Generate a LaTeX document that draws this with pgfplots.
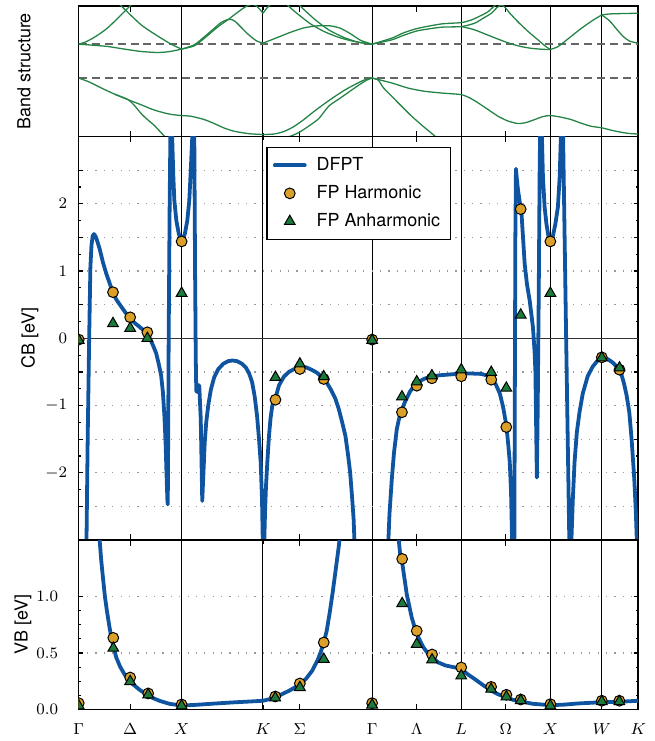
\documentclass[border=0pt]{standalone}
\usepackage{fontspec}
\setmainfont{TeX Gyre Heros}
\usepackage{pgfplots}
\pgfplotsset{compat=1.18}
\usepackage{pgfplotstable}

\definecolor{dfpt}{RGB}{14,84,160}
\definecolor{harm}{RGB}{218,160,42}
\definecolor{anh}{RGB}{28,122,60}
\definecolor{band}{RGB}{36,132,70}

% DFPT, conduction band (CB) renormalisation along the path
\pgfplotstableread{
x y
0.0 -4.0
0.0726 -3.4
0.0871 -1.5
0.1016 0.0
0.1133 1.05
0.1239 1.38
0.1355 1.52
0.1481 1.55
0.1626 1.52
0.1791 1.45
0.2033 1.33
0.2352 1.13
0.2682 0.96
0.3001 0.82
0.3320 0.68
0.3679 0.57
0.4134 0.47
0.4550 0.38
0.4937 0.31
0.5421 0.23
0.5905 0.17
0.6292 0.12
0.6651 0.07
0.6970 -0.02
0.7260 -0.12
0.7522 -0.22
0.7744 -0.36
0.8006 -0.55
0.8180 -0.80
0.8325 -1.15
0.8441 -1.55
0.8519 -1.95
0.8616 -2.40
0.8654 -2.47
0.8693 -1.50
0.8742 0.00
0.8838 2.00
0.8906 3.00
0.8984 3.50
0.9080 3.00
0.9197 2.40
0.9293 2.05
0.9487 1.75
0.9729 1.55
1.0000 1.44
1.0310 1.55
1.0552 1.75
1.0745 2.05
1.0890 2.50
1.1036 3.00
1.1152 3.50
1.1230 3.04
1.1307 1.00
1.1375 -0.30
1.1423 -0.78
1.1520 -0.80
1.1549 -0.70
1.1713 -0.70
1.1859 -1.20
1.2004 -2.42
1.2120 -2.00
1.2246 -1.55
1.2391 -1.25
1.2585 -1.00
1.2846 -0.76
1.3166 -0.58
1.3553 -0.46
1.4037 -0.38
1.4521 -0.34
1.4937 -0.33
1.5392 -0.34
1.5876 -0.38
1.6263 -0.44
1.6554 -0.52
1.6844 -0.65
1.7086 -0.85
1.7328 -1.15
1.7522 -1.50
1.7686 -1.85
1.7812 -2.40
1.7906 -3.20
1.7957 -4.00
1.7986 -3.30
1.8103 -2.60
1.8199 -2.20
1.8325 -1.85
1.8490 -1.45
1.8635 -1.20
1.8809 -1.00
1.9138 -0.88
1.9458 -0.70
1.9942 -0.57
2.0426 -0.50
2.0910 -0.46
2.1491 -0.44
2.2072 -0.43
2.2652 -0.47
2.3137 -0.51
2.3650 -0.58
2.4105 -0.66
2.4492 -0.76
2.4947 -0.90
2.5266 -1.05
2.5605 -1.25
2.5915 -1.45
2.6186 -1.75
2.6380 -2.00
2.6554 -2.34
2.6718 -2.70
2.6815 -3.10
2.6912 -3.60
2.8513 -5.00
3.0010 -3.60
3.0039 -3.20
3.0203 -2.60
3.0426 -2.09
3.0639 -1.70
3.0910 -1.35
3.1123 -1.20
3.1394 -1.06
3.1752 -0.93
3.2207 -0.79
3.2623 -0.70
3.3011 -0.65
3.3591 -0.60
3.4298 -0.57
3.5044 -0.55
3.5915 -0.54
3.6689 -0.53
3.7532 -0.525
3.8335 -0.525
3.9138 -0.53
3.9594 -0.55
4.0107 -0.60
4.0513 -0.68
4.0920 -0.82
4.1239 -1.02
4.1559 -1.30
4.1752 -1.60
4.1888 -1.84
4.2014 -2.30
4.2110 -3.00
4.2207 -3.60
4.2285 -3.60
4.2333 -3.00
4.2430 1.50
4.2488 2.52
4.2556 2.40
4.2691 2.20
4.2885 2.00
4.3011 1.90
4.3175 1.50
4.3340 1.10
4.3563 0.80
4.3824 0.56
4.4143 0.16
4.4300 -0.20
4.4380 -0.50
4.4450 -1.30
4.4520 -2.07
4.4600 -1.10
4.4700 0.60
4.4792 2.50
4.4840 3.10
4.4918 3.60
4.4995 3.10
4.5111 2.40
4.5276 1.95
4.5450 1.70
4.5644 1.52
4.5833 1.44
4.6079 1.52
4.6321 1.70
4.6563 1.95
4.6738 2.40
4.6854 3.00
4.6951 3.60
4.7067 3.04
4.7367 0.00
4.7677 -3.04
4.7725 -3.60
4.7822 -3.60
4.7870 -3.04
4.8015 -2.40
4.8180 -1.85
4.8403 -1.40
4.8664 -1.10
4.8984 -0.82
4.9468 -0.56
4.9952 -0.42
5.0436 -0.33
5.0833 -0.29
5.1404 -0.31
5.1888 -0.36
5.2275 -0.42
5.2691 -0.51
5.3001 -0.68
5.3243 -0.85
5.3504 -1.10
5.3727 -1.50
5.3988 -2.09
5.4143 -2.60
5.4240 -3.04
5.4369 -3.60
}\cbdfpt

% DFPT, valence band (VB)
\pgfplotstableread{
x y
0.1000 4.00
0.1791 1.90
0.2033 1.50
0.2178 1.33
0.2352 1.17
0.2546 1.00
0.2740 0.873
0.2953 0.75
0.3166 0.637
0.3388 0.55
0.3650 0.46
0.4018 0.38
0.4453 0.31
0.4840 0.26
0.5256 0.224
0.5905 0.175
0.6554 0.135
0.7164 0.103
0.7841 0.077
0.8809 0.050
1.0000 0.035
1.1230 0.040
1.3330 0.053
1.4908 0.062
1.6554 0.070
1.7328 0.074
1.7906 0.077
1.8490 0.090
1.9138 0.112
1.9748 0.135
2.0426 0.165
2.1007 0.195
2.1491 0.224
2.2072 0.270
2.2682 0.342
2.3233 0.440
2.3524 0.510
2.3814 0.590
2.4105 0.700
2.4395 0.860
2.4685 1.040
2.4976 1.240
2.5266 1.440
2.5411 1.550
2.5750 1.850
2.6234 2.700
2.8513 6.000
3.0600 2.700
3.0910 1.800
3.1075 1.520
3.1239 1.374
3.1433 1.300
3.1878 1.020
3.2362 0.814
3.2672 0.720
3.3011 0.637
3.3495 0.550
3.3979 0.490
3.4463 0.450
3.4947 0.416
3.5625 0.390
3.6234 0.378
3.6689 0.370
3.7173 0.357
3.7822 0.310
3.8500 0.268
3.9303 0.215
4.0107 0.165
4.0755 0.135
4.1559 0.106
4.2207 0.085
4.3011 0.070
4.4143 0.050
4.5833 0.038
4.7047 0.042
4.8499 0.053
4.9952 0.060
5.0833 0.065
5.2536 0.068
5.4369 0.077
}\vbdfpt

\pgfplotstableread{
x harm anh
0.0000 -0.02 -0.03
0.3330 0.685 0.22
0.5000 0.312 0.15
0.6670 0.089 0.00
1.0000 1.440 0.67
1.9120 -0.914 -0.58
2.1490 -0.457 -0.38
2.3810 -0.605 -0.57
2.8513 -0.020 -0.03
3.1410 -1.100 -0.87
3.2850 -0.705 -0.645
3.4320 -0.595 -0.556
3.7173 -0.565 -0.467
4.0090 -0.616 -0.506
4.1550 -1.320 -0.74
4.2950 1.920 0.347
4.5833 1.440 0.67
5.0833 -0.283 -0.29
5.2550 -0.467 -0.44
}\cbfp

\pgfplotstableread{
x harm anh
0.0000 0.056 0.033
0.3360 0.634 0.543
0.5000 0.283 0.248
0.6750 0.142 0.130
1.0000 0.044 0.033
1.9100 0.115 0.103
2.1490 0.230 0.195
2.3814 0.593 0.445
2.8513 0.056 0.040
3.1433 1.333 0.938
3.2846 0.696 0.578
3.4337 0.487 0.440
3.7173 0.372 0.298
4.0077 0.200 0.180
4.1559 0.130 0.112
4.2953 0.088 0.080
4.5833 0.047 0.033
5.0833 0.077 0.070
5.2536 0.077 0.070
}\vbfp

\pgfplotsset{
  panel/.style={
    scale only axis, width=280.75pt,
    xmin=0, xmax=5.4369,
    xtick={0,1,1.7906,2.8513,3.7173,4.5833,5.0833,5.4369},
    xticklabels={},
    extra x ticks={0.5,2.149,3.284,4.150},
    extra x tick labels={},
    extra x tick style={grid=none, major tick length=2.8pt},
    xmajorgrids,
    x grid style={black, line width=0.5pt},
    y grid style={black!40, line width=0.6pt, dash pattern=on 0.6pt off 3.6pt},
    axis line style={black, line width=0.75pt},
    tick style={black, line width=0.6pt},
    major tick length=2pt, minor tick length=1.2pt,
    tick align=inside,
    clip marker paths=true,
    yticklabel style={font=\fontsize{8}{9.6}\selectfont},
    xticklabel style={font=\fontsize{8.5}{10}\selectfont, yshift=-3.5pt},
    ylabel style={font=\fontsize{9}{11}\selectfont, anchor=center},
    legend image code/.code={\draw[mark repeat=2,mark phase=2,#1] plot coordinates {(0pt,0pt) (7.5pt,0pt) (15pt,0pt)};},
  },
  bandline/.style={color=band, line width=0.65pt, smooth, tension=0.4, forget plot},
  dfptline/.style={color=dfpt, line width=1.9pt, line join=round, line cap=round},
  harmmark/.style={only marks, mark=*, mark size=2.7pt, mark options={fill=harm, draw=black, line width=0.5pt}},
  anhmark/.style={only marks, mark=triangle*, mark size=3.1pt, mark options={fill=anh, draw=black, line width=0.5pt}},
}

\begin{document}
\begin{tikzpicture}
\path (0pt,0pt) rectangle (328.5pt,-370.5pt);

% ---------------- band structure ----------------
\begin{axis}[panel, at={(39.5pt,-68.5pt)}, anchor=south west, height=65.5pt,
  ymin=0, ymax=131, ytick=\empty,
  ylabel={Band structure}, ylabel style={at={(axis description cs:-0.098,0.5)}}]
\addplot[black!60, dash pattern=on 4pt off 2.5pt, line width=0.65pt, forget plot] coordinates {(0,92.7) (5.4369,92.7)};
\addplot[black!60, dash pattern=on 4pt off 2.5pt, line width=0.65pt, forget plot] coordinates {(0,58.7) (5.4369,58.7)};
% conduction bands
\addplot[bandline] coordinates {(0,92.7) (0.1549,91.5) (0.2836,90.3) (0.4453,87.7) (0.6070,85.3) (0.7677,84.3) (0.8809,85.2) (1.0,87.7)};
\addplot[bandline] coordinates {(0,92.7) (0.0581,94.5) (0.1258,98) (0.2033,103) (0.2807,109) (0.3582,116.5) (0.4356,124.5) (0.5034,131.5) (0.5518,137)};
\addplot[bandline] coordinates {(0.3485,137) (0.4134,131) (0.5034,122) (0.6070,112) (0.6970,105.5) (0.8006,98.7) (0.9003,92.5) (1.0,87.7)};
\addplot[bandline] coordinates {(1,87.7) (1.1230,92) (1.2198,100) (1.3166,108.5) (1.3843,114.5) (1.4424,117.2) (1.4811,117.5) (1.5198,115.5) (1.5750,110) (1.6263,104.5) (1.6873,99) (1.7328,95.7) (1.7906,93.7)};
\addplot[bandline] coordinates {(1,87.7) (1.1230,91) (1.2198,98.5) (1.3166,107) (1.3843,112.5) (1.4453,116.8) (1.5102,122) (1.5750,127) (1.6263,130.5) (1.6747,132.5) (1.7134,132) (1.7522,128.5) (1.7906,123.7)};
\addplot[bandline] coordinates {(1.7906,93.7) (1.8974,98) (2.0426,104) (2.1878,109) (2.3137,111) (2.4492,111) (2.5460,108.5) (2.6428,103) (2.7396,96.5) (2.8513,92.7)};
\addplot[bandline] coordinates {(1.7906,123.7) (1.8296,129) (1.8780,134) (1.9361,137) (1.9942,135.5) (2.0591,129) (2.1394,122) (2.2527,113) (2.3814,105.5) (2.5266,99.5) (2.6718,95.5) (2.8513,92.7)};
\addplot[bandline] coordinates {(2.1007,137) (2.1588,130.3) (2.2943,117.5) (2.4298,107) (2.5750,99.5) (2.7202,94.5) (2.8513,92.7)};
\addplot[bandline] coordinates {(2.8513,92.7) (3.0426,98.7) (3.1559,104) (3.3011,108.7) (3.5266,113) (3.7173,114.3) (3.8170,117) (3.9012,121) (3.9787,125.3) (4.0465,132) (4.0949,137)};
\addplot[bandline] coordinates {(2.8513,92.7) (3.0426,97) (3.1559,101.5) (3.3011,106.3) (3.5266,109.7) (3.7173,110.3) (3.8471,113.7) (3.9274,118.5) (4.0107,123.7) (4.0658,129.5) (4.1075,132) (4.1433,129.5) (4.1917,123.5) (4.2691,115) (4.3659,105.5) (4.4627,97) (4.5305,91) (4.5833,87.3)};
\addplot[bandline] coordinates {(3.7173,110.3) (3.8335,107.5) (3.9468,103) (4.0562,98.5) (4.1723,94) (4.2885,90.5) (4.3979,88.5) (4.5111,87.5) (4.5833,87.3)};
\addplot[bandline] coordinates {(4.5833,87.3) (4.6544,90) (4.7125,94.5) (4.7832,100.3) (4.8771,108) (4.9768,115.3) (5.0416,119.5) (5.0833,122)};
\addplot[bandline] coordinates {(5.0833,122) (5.1597,123) (5.2856,123.4) (5.4369,123.7)};
\addplot[bandline] coordinates {(5.0833,122) (5.1597,116) (5.2372,106.5) (5.2953,100) (5.3534,95.7) (5.4369,93.7)};
% valence bands
\addplot[bandline] coordinates {(0,58.7) (0.1065,54.5) (0.2198,48.7) (0.3485,42.5) (0.4773,37) (0.5905,32.5) (0.7357,26.5) (0.8809,22.5) (1.0,21)};
\addplot[bandline] coordinates {(0.3485,42.5) (0.4773,37.2) (0.5421,31) (0.6070,23) (0.6680,17) (0.7357,11) (0.8325,0.3) (0.8616,-3)};
\addplot[bandline] coordinates {(1,21) (1.0939,20.3) (1.2198,17) (1.3166,13) (1.4134,8.5) (1.5102,5.3) (1.6554,2.8) (1.7906,2)};
\addplot[bandline] coordinates {(1.7906,2) (1.8974,2.5) (1.9942,5) (2.0910,10) (2.1878,17) (2.2846,25) (2.4298,36) (2.5750,46) (2.6718,51.5) (2.7686,56.5) (2.8513,58.7)};
\addplot[bandline] coordinates {(1.9748,-2) (2.0620,0.5) (2.1394,4) (2.2362,10.5) (2.3330,18) (2.4298,30.5) (2.5266,37.5) (2.6234,44.5) (2.7202,51.5) (2.7977,56.5) (2.8513,58.7)};
\addplot[bandline] coordinates {(2.8513,58.7) (3.0426,53.7) (3.2042,48.5) (3.3659,45.3) (3.5431,43.5) (3.7173,42) (3.8044,38.5) (3.8819,33.7) (3.9787,27) (4.0755,20.3) (4.1723,15.5) (4.2691,13) (4.3466,14) (4.4308,17) (4.5111,20) (4.5833,21) (4.6815,19.5) (4.7851,17) (4.8790,13.5) (4.9787,10.3) (5.0833,8.7) (5.1888,6) (5.2691,4.3) (5.3533,3) (5.4369,2.5)};
\addplot[bandline] coordinates {(2.8513,58.7) (2.9116,56.5) (2.9603,49) (3.0426,40.3) (3.1365,30.5) (3.2362,20.3) (3.3495,10) (3.4627,0.3) (3.4947,-3)};
\end{axis}

% ---------------- CB ----------------
\begin{axis}[panel, at={(39.5pt,-271pt)}, anchor=south west, height=202.5pt,
  ymin=-3, ymax=3,
  ytick={-2.5,-2,-1.5,-1,-0.5,0,0.5,1,1.5,2,2.5},
  yticklabels={,$-2$,,$-1$,,$0$,,$1$,,$2$,},
  minor y tick num=1, ymajorgrids,
  yticklabel style={xshift=-2.3pt},
  ylabel={CB [eV]}, ylabel style={at={(axis description cs:-0.0873,0.5)}},
  legend style={at={(axis description cs:0.3354,0.9746)}, anchor=north west,
    draw=black, line width=0.6pt, fill=white, font=\fontsize{9}{11}\selectfont,
    inner xsep=3pt, inner ysep=3pt, row sep=2pt,
    /tikz/every odd column/.append style={column sep=3pt}},
  legend cell align=left]
\addplot[black!80, line width=0.5pt, forget plot] coordinates {(0,0) (5.4369,0)};
\addplot[dfptline] table[x=x, y=y] {\cbdfpt};
\addplot[harmmark] table[x=x, y=harm] {\cbfp};
\addplot[anhmark] table[x=x, y=anh] {\cbfp};
\legend{DFPT, FP Harmonic, FP Anharmonic}
\end{axis}

% ---------------- VB ----------------
\begin{axis}[panel, at={(39.5pt,-356pt)}, anchor=south west, height=85pt,
  ymin=0, ymax=1.5,
  ytick={0,0.5,1}, yticklabels={$0.0$,$0.5$,$1.0$},
  minor y tick num=3, ymajorgrids,
  yticklabel style={xshift=-6.8pt},
  xticklabels={$\Gamma$,$X$,$K$,$\Gamma$,$L$,$X$,$W$,$K$},
  extra x tick labels={$\Delta$,$\Sigma$,$\Lambda$,$\Omega$},
  ylabel={VB [eV]}, ylabel style={at={(axis description cs:-0.0997,0.5)}}]
\addplot[dfptline] table[x=x, y=y] {\vbdfpt};
\addplot[harmmark] table[x=x, y=harm] {\vbfp};
\addplot[anhmark] table[x=x, y=anh] {\vbfp};
\end{axis}
\end{tikzpicture}
\end{document}
